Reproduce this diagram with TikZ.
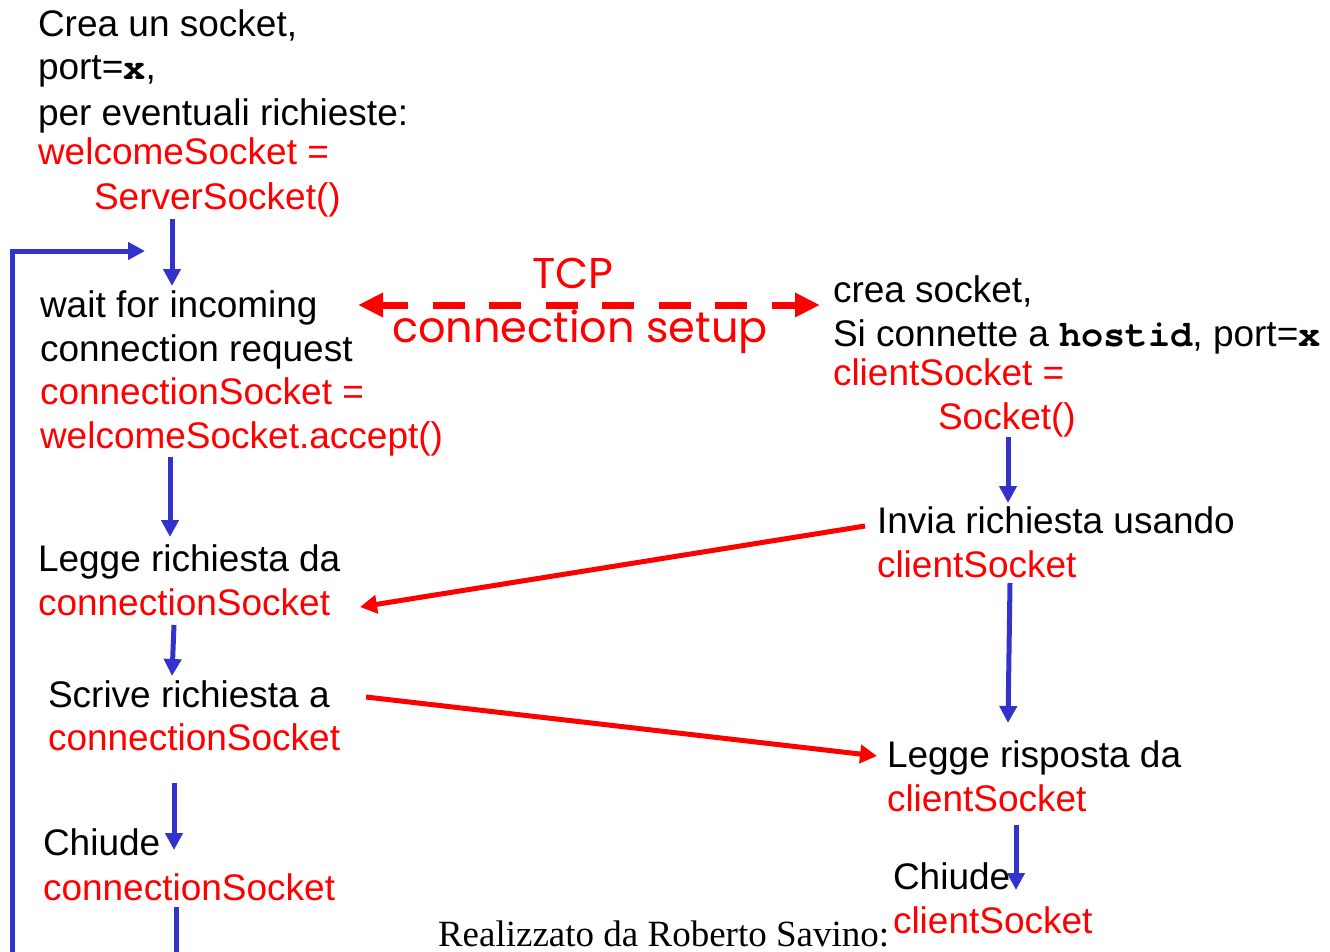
\documentclass[tikz,border=0pt]{standalone}
\usepackage{fontspec}
\setmainfont{Liberation Sans}
\newfontfamily\codefont{TeX Gyre Cursor}
\newfontfamily\serifont{Liberation Serif}
\newfontfamily\handfont{Poppins}
\usetikzlibrary{arrows.meta}
\definecolor{flowblue}{RGB}{51,51,204}
\definecolor{msgred}{RGB}{255,0,0}
\begin{document}
\begin{tikzpicture}[x=1pt,y=-1pt,
  txt/.style={anchor=base west,inner sep=0pt,outer sep=0pt,font=\fontsize{37pt}{44pt}\selectfont},
  code/.style={txt,text=msgred},
  hand/.style={anchor=base,inner sep=0pt,outer sep=0pt,text=msgred,font=\handfont\fontsize{43pt}{50pt}\selectfont},
  flow/.style={draw=flowblue,line width=5pt,-{Triangle[length=17pt,width=17pt]}},
  plainflow/.style={draw=flowblue,line width=5pt},
  msg/.style={draw=msgred,line width=5pt,-{Triangle[length=17pt,width=18pt]}},
  setup/.style={draw=msgred,line width=7pt,dash pattern=on 32pt off 24.5pt,dash phase=5pt,{Triangle[length=25pt,width=23pt]}-{Triangle[length=25pt,width=23pt]}}
]
\useasboundingbox (0,0) rectangle (1330,952);

% server column
\node[txt]  (s1) at (38,37)  {Crea un socket,};
\node[txt]  (s2) at (38,80)  {port={\codefont\bfseries x},};
\node[txt]  (s3) at (38,126) {per eventuali richieste:};
\node[code] (s4) at (38,165) {welcomeSocket =};
\node[code] (s5) at (94,210) {ServerSocket()};

\node[txt]  (w1) at (40,317) {wait for incoming};
\node[txt]  (w2) at (40,361) {connection request};
\node[code] (w3) at (40,404) {connectionSocket =};
\node[code] (w4) at (40,448) {welcomeSocket.accept()};

\node[txt]  (l1) at (38,571) {Legge richiesta da};
\node[code] (l2) at (38,615) {connectionSocket};

\node[txt]  (r1) at (48,707) {Scrive richiesta a};
\node[code] (r2) at (48,750) {connectionSocket};

\node[txt]  (c1) at (43,855) {Chiude};
\node[code] (c2) at (43,900) {connectionSocket};

% client column
\node[txt]  (k1) at (833,302) {crea socket,};
\node[txt]  (k2) at (833,346) {Si connette a {\codefont\bfseries hostid}, port={\codefont\bfseries x}};
\node[code] (k3) at (833,385) {clientSocket =};
\node[code] (k4) at (938,429) {Socket()};

\node[txt]  (i1) at (877,533) {Invia richiesta usando};
\node[code] (i2) at (877,577) {clientSocket};

\node[txt]  (g1) at (887,767) {Legge risposta da};
\node[code] (g2) at (887,811) {clientSocket};

\node[txt]  (h1) at (893,889) {Chiude};
\node[code] (h2) at (893,933) {clientSocket};

\node[txt,font=\serifont\fontsize{37pt}{44pt}\selectfont] (auth) at (438,946) {Realizzato da Roberto Savino:};

% TCP connection setup
\node[hand] (tcp) at (573,288) {TCP};
\node[hand] (cs)  at (580,342) {connection setup};

% connector end points
\coordinate (b1s) at (172,219); \coordinate (b1e) at (172,286);
\coordinate (b2s) at (170,457); \coordinate (b2e) at (170,537);
\coordinate (b3s) at (174,625); \coordinate (b3e) at (172,676);
\coordinate (b4s) at (174,783); \coordinate (b4e) at (174,850);
\coordinate (b5s) at (176,907); \coordinate (b5e) at (176,955);
\coordinate (lpA) at (12,955);  \coordinate (lpB) at (12,251); \coordinate (lpC) at (145,251);
\coordinate (b6s) at (1008,437); \coordinate (b6e) at (1008,503);
\coordinate (b7s) at (1010,583); \coordinate (b7e) at (1008,723);
\coordinate (b8s) at (1016,825); \coordinate (b8e) at (1016,890);
\coordinate (dL) at (358,305); \coordinate (dR) at (820,305);
\coordinate (m1s) at (865,526); \coordinate (m1e) at (360,607);
\coordinate (m2s) at (366,697); \coordinate (m2e) at (877,756);

\draw[flow] (b1s) -- (b1e);
\draw[flow] (b2s) -- (b2e);
\draw[flow] (b3s) -- (b3e);
\draw[flow] (b4s) -- (b4e);
\draw[plainflow] (b5s) -- (b5e);
\draw[flow] (lpA) -- (lpB) -- (lpC);
\draw[flow] (b6s) -- (b6e);
\draw[flow] (b7s) -- (b7e);
\draw[flow] (b8s) -- (b8e);
\draw[setup] (dL) -- (dR);
\draw[msg] (m1s) -- (m1e);
\draw[msg] (m2s) -- (m2e);
\end{tikzpicture}
\end{document}
